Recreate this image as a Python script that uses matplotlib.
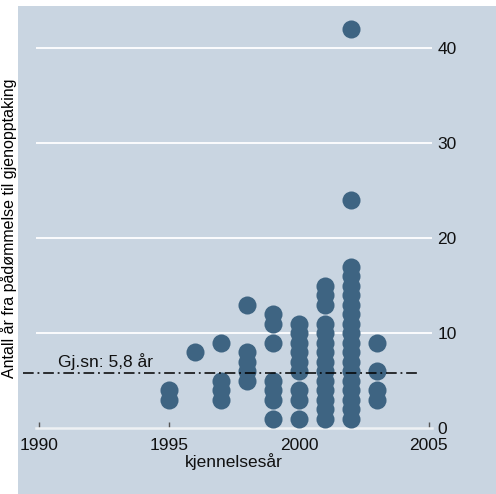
import matplotlib
matplotlib.use("Agg")
import matplotlib.pyplot as plt
from matplotlib.patches import Rectangle

# Years from verdict to reopening, by year of verdict
years = [1995, 1995,
         1996,
         1997, 1997, 1997, 1997,
         1998, 1998, 1998, 1998, 1998,
         1999, 1999, 1999, 1999, 1999, 1999, 1999,
         2000, 2000, 2000, 2000, 2000, 2000, 2000, 2000, 2000,
         2001, 2001, 2001, 2001, 2001, 2001, 2001, 2001, 2001, 2001, 2001, 2001, 2001, 2001,
         2002, 2002, 2002, 2002, 2002, 2002, 2002, 2002, 2002, 2002, 2002, 2002, 2002, 2002,
         2002, 2002, 2002, 2002, 2002,
         2003, 2003, 2003, 2003]
duration = [4, 3,
            8,
            9, 5, 4, 3,
            13, 8, 7, 6, 5,
            12, 11, 9, 5, 4, 3, 1,
            11, 10, 9, 8, 7, 6, 4, 3, 1,
            15, 14, 13, 11, 10, 9, 8, 7, 6, 5, 4, 3, 2, 1,
            42, 24, 17, 16, 15, 14, 13, 12, 11, 10, 9, 8, 7, 6,
            5, 4, 3, 2, 1,
            9, 6, 4, 3]
mean_years = 5.8
mean_label = "Gj.sn: 5,8 år"
x_ticks = [1990, 1995, 2000, 2005]
y_ticks = [0, 10, 20, 30, 40]
x_title = "kjennelsesår"
y_title = "Antall år fra pådømmelse til gjenopptaking"

plt.rcParams["font.family"] = ["Liberation Sans", "DejaVu Sans"]

bg = "#c9d5e1"
dot = "#3e6482"

W, H = 496, 494
fig = plt.figure(figsize=(W / 100, H / 100), dpi=100)
fig.patch.set_facecolor("white")
fig.patches.append(Rectangle((18 / W, 0), 1 - 18 / W, 1 - 6 / H,
                             transform=fig.transFigure, facecolor=bg,
                             edgecolor="none", zorder=-10))

ax = fig.add_axes([36 / W, 1 - 429 / H, 396 / W, 419 / H])
ax.set_zorder(1)
ax.patch.set_visible(False)
ax.set_xlim(1989.88, 2005.12)
ax.set_ylim(-0.07, 44.0)

for s in ["left", "right", "top"]:
    ax.spines[s].set_visible(False)
ax.spines["bottom"].set_color("#eef1f4")
ax.spines["bottom"].set_linewidth(1.8)
ax.spines["bottom"].set_position(("data", 0))

for v in y_ticks[1:]:
    ax.axhline(v, color="white", lw=1.3, zorder=1)

ax.plot(years, duration, linestyle="none", marker="o", ms=13,
        color=dot, markeredgewidth=0, zorder=3, clip_on=False)

ax.plot([1989.38, 2004.54], [mean_years, mean_years], color="black",
        lw=1.1, dashes=(7, 2.5, 1.2, 2.5), zorder=4, clip_on=False)
ax.text(1990.73, 6.42, mean_label, fontsize=12.5, va="baseline",
        ha="left", color="#111111", zorder=5)

ax.set_xticks(x_ticks)
ax.set_xticklabels([str(t) for t in x_ticks])
ax.tick_params(axis="x", direction="in", length=4, width=1,
               color="#555555", labelsize=12.5, pad=7, labelcolor="#111111")
ax.yaxis.tick_right()
ax.set_yticks(y_ticks)
ax.tick_params(axis="y", length=0, pad=4, labelsize=12.5,
               labelcolor="#111111")

ax.set_xlabel(x_title, fontsize=12.5, labelpad=0, color="#111111")

# Vertical title in the narrow white strip on the left
fig.text(9 / W, 1 - 228 / H, y_title, rotation=90,
         ha="center", va="center", fontsize=11.5, color="black")

fig.savefig("out.png", dpi=100, facecolor="white")
